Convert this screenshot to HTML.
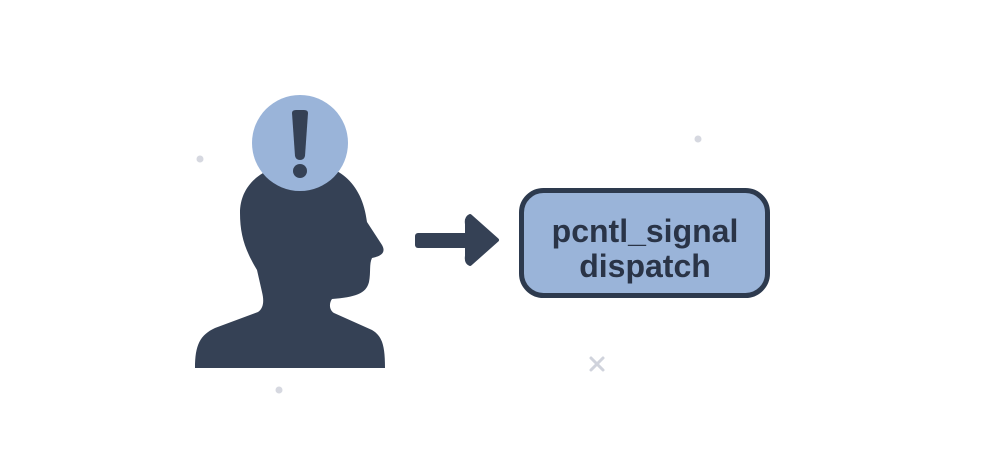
<!DOCTYPE html>
<html><head><style>
html,body{margin:0;padding:0;background:#fff;}
body{width:991px;height:467px;position:relative;overflow:hidden;font-family:"Liberation Sans","DejaVu Sans",sans-serif;}
</style></head><body>
<svg width="991" height="467" viewBox="0 0 991 467" style="position:absolute;left:0;top:0">
<circle cx="200" cy="159" r="3.5" fill="#d6d8e0"/>
<circle cx="279" cy="390" r="3.5" fill="#d6d8e0"/>
<circle cx="698" cy="139" r="3.5" fill="#d6d8e0"/>
<path d="M591 358 L603 370 M603 358 L591 370" stroke="#d0d3dc" stroke-width="3" stroke-linecap="round"/>
<path d="M195 368 C195 345 200 335 215 328 L258 312 C264 308 264 300 262 292 L257 270 C245 250 240 235 240 213 C240 185 262 165 300 163 C335 162 362 180 367 222 L382 245 C386 252 382 256 372 258 C369 264 371 272 369 282 C366 294 355 297 332 299 C329 303 329 310 334 313 L372 330 C382 336 385 345 385 368 Z" fill="#354155"/>
<circle cx="300" cy="143" r="48" fill="#9ab4d9"/>
<path d="M292 113 Q292 110 296 110 L304 110 Q308 110 308 113 L305 156 Q304 160 300 160 Q296 160 295 156 Z" fill="#354155"/>
<circle cx="300" cy="171" r="7" fill="#354155"/>
<rect x="415" y="233" width="60" height="15" rx="3" fill="#354155"/>
<path d="M470 216 L497 240 L470 264 Q466 262 467 256 L467 224 Q466 218 470 216 Z" fill="#354155" stroke="#354155" stroke-width="4" stroke-linejoin="round"/>
<rect x="521.5" y="190.5" width="246" height="105" rx="22" fill="#9ab4d9" stroke="#2d3a4e" stroke-width="5"/>
<text x="645" y="242" text-anchor="middle" font-family="Liberation Sans, sans-serif" font-weight="bold" font-size="32" fill="#2a3447">pcntl_signal</text>
<text x="645" y="277" text-anchor="middle" font-family="Liberation Sans, sans-serif" font-weight="bold" font-size="32" fill="#2a3447">dispatch</text>
</svg>
</body></html>
